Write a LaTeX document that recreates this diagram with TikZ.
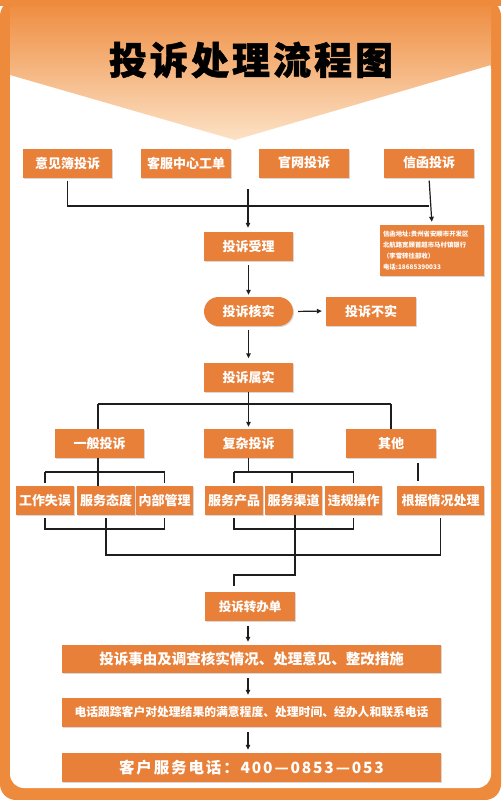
\documentclass[tikz,border=0pt]{standalone}
\usepackage{fontspec}
\setmainfont{Noto Sans CJK SC}
\usetikzlibrary{arrows.meta,shadows,calc}
\definecolor{ob}{HTML}{E8803A}
\definecolor{frame}{HTML}{EE8A3C}
\definecolor{peach}{HTML}{FCE2C6}
\definecolor{lc}{HTML}{1E1E1E}
\tikzset{
  obox/.style={fill=ob, text=white, font=\bfseries\fontsize{13}{13}\selectfont,
    inner sep=0pt, minimum height=29pt,
    general shadow={fill=black!30, opacity=0.5, shadow xshift=1pt, shadow yshift=-1pt}},
  conn/.style={draw=lc, line width=1.2pt},
  conna/.style={conn, -{Triangle[length=5pt,width=4.5pt]}},
}
\begin{document}
\begin{tikzpicture}[x=1pt,y=-1pt]
\useasboundingbox (0,0) rectangle (501,800);
\fill[white] (0,0) rectangle (501,800);
\fill[frame, rounded corners=16pt] (0,0) rectangle (501,800);
\fill[white, rounded corners=14pt] (10,55) rectangle (491,788);
\shade[top color=frame, bottom color=peach] (10,0) -- (491,0) -- (491,65) -- (235,140) -- (10,75) -- cycle;
\fill[frame] (0,0) rectangle (501,6);

\node[font=\bfseries\fontsize{38}{38}\selectfont, text=black] (title) at (251,60) {\addfontfeature{LetterSpace=8,FakeBold=1.2}投诉处理流程图};

% row 1
\node[obox, minimum width=89pt] (a1) at (67.5,163) {意见簿投诉};
\node[obox, minimum width=90pt] (a2) at (186,163) {客服中心工单};
\node[obox, minimum width=90pt] (a3) at (304,163) {官网投诉};
\node[obox, minimum width=90pt] (a4) at (429,163) {信函投诉};

\node[obox, minimum width=104pt, minimum height=51pt, font=\bfseries\fontsize{6.4}{10.8}\selectfont, align=left, text width=98pt] (addr) at (432,250.5)
  {信函地址:贵州省安顺市开发区\\北航路宽顾首超市马村镇银行\\（李雪转往部收）\\电话:18685390033};

\node[obox, minimum width=89pt] (b1) at (248.5,246.5) {投诉受理};
\node[obox, minimum width=89pt, rounded corners=14.5pt] (b2) at (248.5,311.5) {投诉核实};
\node[obox, minimum width=90pt] (b3) at (371,311) {投诉不实};
\node[obox, minimum width=89pt] (b4) at (248.5,377) {投诉属实};

\node[obox, minimum width=89pt] (c1) at (99.5,443.5) {一般投诉};
\node[obox, minimum width=89pt] (c2) at (248.5,443.5) {复杂投诉};
\node[obox, minimum width=90pt] (c3) at (391,443.5) {其他};

\node[obox, minimum width=58pt] (d1) at (45,500.5) {工作失误};
\node[obox, minimum width=58pt] (d2) at (106,500.5) {服务态度};
\node[obox, minimum width=57pt] (d3) at (164.5,500.5) {内部管理};
\node[obox, minimum width=58pt] (d4) at (234,500.5) {服务产品};
\node[obox, minimum width=57pt] (d5) at (293.5,500.5) {服务渠道};
\node[obox, minimum width=57pt] (d6) at (353.5,500.5) {违规操作};
\node[obox, minimum width=87pt] (d7) at (440.5,500.5) {根据情况处理};

\node[obox, minimum width=90pt, font=\bfseries\fontsize{12.5}{12.5}\selectfont] (e1) at (250,606.5) {投诉转办单};
\node[obox, minimum width=379pt, minimum height=28pt, font=\bfseries\fontsize{14.5}{14.5}\selectfont] (f1) at (251.5,659) {投诉事由及调查核实情况、处理意见、整改措施};
\node[obox, minimum width=379pt, font=\bfseries\fontsize{11.8}{11.8}\selectfont] (f2) at (251.5,712.5) {电话跟踪客户对处理结果的满意程度、处理时间、经办人和联系电话};
\node[obox, minimum width=379pt, font=\bfseries\fontsize{15.5}{15.5}\selectfont] (f3) at (251.5,767.5) {\addfontfeature{LetterSpace=12}客户服务电话：400—0853—053};

% junction coordinates
\coordinate (h0) at (0,206);
\coordinate (top) at (248,189);
\coordinate (h1) at (0,404);
\coordinate (g1) at (0,472);
\coordinate (g2) at (0,529);
\coordinate (g3) at (0,555);
\coordinate (g4) at (0,575);

% top connectors
\draw[conn, shorten <=3pt] (a1.south) -- (a1.south |- h0) -- (a4.south |- h0);
\draw[conna, shorten <=3pt, shorten >=3pt] (a4.south) -- (addr.north);
\draw[conna, shorten >=4pt] (top) -- (top |- b1.north);
\draw[conna, shorten <=4pt, shorten >=2pt] (b1.south) -- (b2.north);
\draw[conna, shorten <=5pt, shorten >=4pt] (b2.east) -- (b3.west);
\draw[conna, shorten <=4pt, shorten >=4pt] (b2.south) -- (b4.north);

% branch to categories
\draw[conn] (b4.south) -- (b4.south |- h1);
\draw[conn] (98,404) -- (c3.north |- h1);
\draw[conn] (98,404) -- (98,429 |- c1.north);
\draw[conna, shorten >=2pt] (c2.north |- h1) -- (c2.north);
\draw[conn] (c3.north |- h1) -- (c3.north);

% 一般投诉 sub-branches
\draw[conn] (c1.south -| 98,0) -- (98,0 |- d2.north);
\draw[conn] (d1.north |- g1) -- (d3.north |- g1);
\draw[conn] (d1.north |- g1) -- ($(d1.north)+(0,-3)$);
\draw[conn] (d3.north |- g1) -- ($(d3.north)+(0,-3)$);

% 复杂投诉 sub-branches
\draw[conn] (c2.south) -- (c2.south |- g1);
\draw[conn] (d4.north |- g1) -- (d6.north |- g1);
\draw[conn] (d4.north |- g1) -- ($(d4.north)+(0,-3)$);
\draw[conn] (292,472) -- (292,483);
\draw[conn] (d6.north |- g1) -- ($(d6.north)+(0,-3)$);

% 其他
\draw[conn, shorten <=5pt, shorten >=5pt] (418,0 |- c3.south) -- (418,0 |- d7.north);

% bottom merges
\draw[conn, shorten <=3pt] (d1.south) -- (d1.south |- g2) -- (d3.south |- g2) -- ($(d3.south)+(0,3)$);
\draw[conn, shorten <=3pt] (d4.south) -- (d4.south |- g2) -- (d6.south |- g2) -- ($(d6.south)+(0,3)$);
\draw[conn, shorten <=3pt] (d2.south) -- (d2.south |- g3) -- (d7.south |- g3) -- ($(d7.south)+(0,3)$);
\draw[conn] (295,0 |- d5.south) -- (295,0 |- g4) -- (234,0 |- g4) -- (234,586);

% bottom arrows
\draw[conna, shorten <=5pt, shorten >=3pt] (e1.south -| 248,0) -- (248,0 |- f1.north);
\draw[conna, shorten <=5pt, shorten >=3pt] (f1.south -| 248,0) -- (248,0 |- f2.north);
\draw[conna, shorten <=5pt, shorten >=3pt] (f2.south -| 248,0) -- (248,0 |- f3.north);
\end{tikzpicture}
\end{document}
